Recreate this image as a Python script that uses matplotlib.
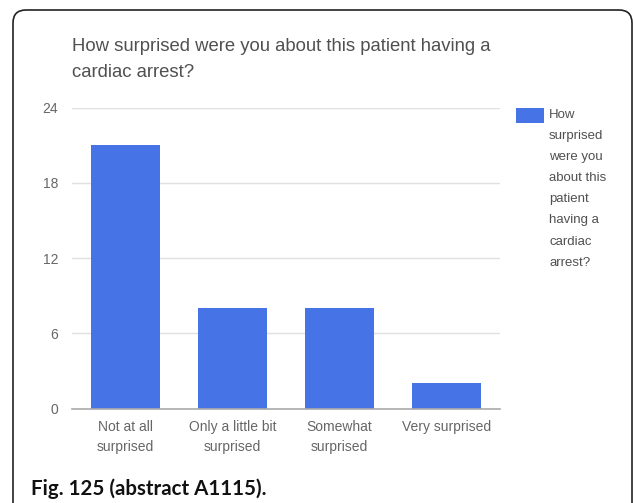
import matplotlib
matplotlib.use('Agg')
import matplotlib.pyplot as plt
from matplotlib.patches import FancyBboxPatch, Rectangle

# data
categories = ['Not at all\nsurprised', 'Only a little bit\nsurprised',
              'Somewhat\nsurprised', 'Very surprised']
counts = [21, 8, 8, 2]
yticks = [0, 6, 12, 18, 24]
title = 'How surprised were you about this patient having a\ncardiac arrest?'
legend_lines = ['How', 'surprised', 'were you', 'about this', 'patient',
                'having a', 'cardiac', 'arrest?']
caption = 'Fig. 125 (abstract A1115).'

W, H = 633, 503
bar_color = '#4673e6'
text_gray = '#505050'
tick_gray = '#666666'

plt.rcParams['font.family'] = ['Liberation Sans', 'DejaVu Sans']

fig = plt.figure(figsize=(W / 100, H / 100), dpi=100)
fig.patch.set_facecolor('white')

def px(x, y):
    # pixel (from top-left) -> figure fraction
    return x / W, 1 - y / H

left, top = px(72, 107.5)
right, bottom = px(500, 408.5)
ax = fig.add_axes([left, bottom, right - left, top - bottom])

xs = list(range(len(categories)))
ax.bar(xs, counts, width=0.645, color=bar_color, zorder=3)
ax.set_xlim(-0.5, 3.5)
ax.set_ylim(0, 24)
ax.set_yticks(yticks)
ax.set_yticklabels([str(t) for t in yticks])
ax.set_xticks(xs)
ax.set_xticklabels(categories, linespacing=1.55)
ax.tick_params(axis='both', length=0, labelsize=10, colors=tick_gray)
ax.tick_params(axis='y', pad=10)
ax.tick_params(axis='x', pad=8)
for s in ['top', 'right', 'left']:
    ax.spines[s].set_visible(False)
ax.spines['bottom'].set_color('#aaaaaa')
ax.spines['bottom'].set_linewidth(1.2)
ax.spines['bottom'].set_zorder(4)
ax.yaxis.grid(True, color='#e0e0e0', linewidth=1.0, zorder=0)
ax.set_axisbelow(True)

# title
tx, ty = px(72, 59.5)
fig.text(tx, ty, title, fontsize=13.3, color=text_gray, ha='left', va='center',
         linespacing=1.68)

# legend
lx, ly = px(516, 123)
fig.patches.append(Rectangle((lx, ly), 28 / W, 15 / H, transform=fig.transFigure,
                             facecolor=bar_color, edgecolor='none'))
for i, line in enumerate(legend_lines):
    x, y = px(549, 115 + 21.1 * i)
    fig.text(x, y, line, fontsize=9.5, color=text_gray, ha='left', va='center')

# caption
cx, cy = px(31, 495)
fig.text(cx, cy, caption, fontsize=14.8, fontweight='bold', color='#111111',
         family=['Lato', 'DejaVu Sans'], ha='left', va='baseline')

# rounded border, open at the bottom
border = FancyBboxPatch((0.13, -0.5), 6.19, 4.93 + 0.5,
                        boxstyle='round,pad=0,rounding_size=0.13',
                        transform=fig.dpi_scale_trans, facecolor='none',
                        edgecolor='#222222', linewidth=1.2, clip_on=False)
fig.patches.append(border)

fig.savefig('out.png', dpi=100)
